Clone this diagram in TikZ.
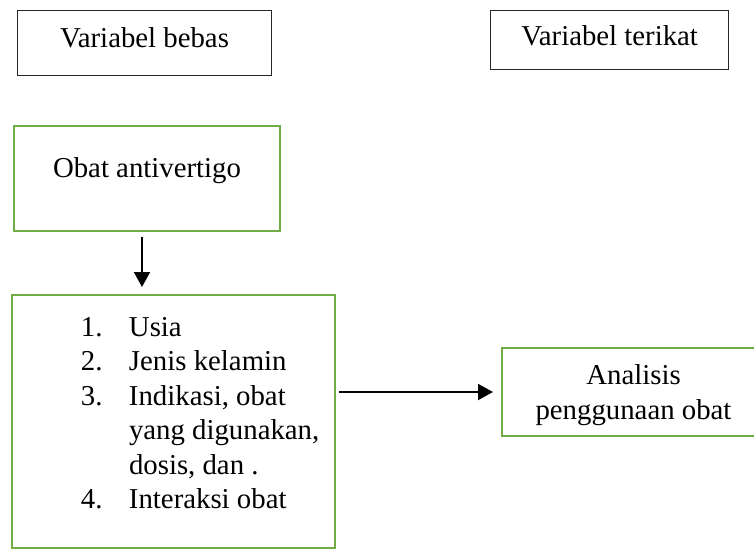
\documentclass[tikz,border=0pt]{standalone}
\usepackage{fontspec}
\setmainfont{Liberation Serif}
\usetikzlibrary{arrows.meta}
\definecolor{hijau}{RGB}{112,173,71}

\begin{document}
\begin{tikzpicture}[x=1pt,y=-1pt,
    judul/.style={draw=black!85,line width=1.2pt,inner sep=0pt,anchor=north west},
    kotak/.style={draw=hijau,line width=2pt,inner sep=0pt,anchor=north west},
    panah/.style={line width=2pt,-{Triangle[width=16pt,length=15pt]}},
    font=\fontsize{28.8}{34.5}\selectfont]
  \useasboundingbox (0,0) rectangle (754,549);
  % variabel
  \node[judul,minimum width=254pt,text height=37pt,text depth=28pt]
    (bebas) at (17,10) {Variabel bebas};
  \node[judul,minimum width=238pt,text height=35pt,text depth=24pt]
    (terikat) at (490,10) {Variabel terikat};
  % kotak hijau
  \node[kotak,minimum width=266pt,text height=51pt,text depth=54pt]
    (obat) at (13,125) {Obat antivertigo};
  \node[kotak,text width=323pt,align=left,text height=41pt,text depth=212pt]
    (daftar) at (11,294) {\spaceskip=0pt\hspace*{69pt}\begin{tabular}[t]{@{}p{48pt}@{}l@{}}
      1. & Usia\\
      2. & Jenis kelamin\\
      3. & Indikasi, obat\\
         & yang digunakan,\\
         & dosis, dan .\\
      4. & Interaksi obat
    \end{tabular}};
  \node[kotak,minimum width=263pt,align=center,text height=71pt,text depth=17pt]
    (analisis) at (501,347) {\spaceskip=0pt Analisis\\penggunaan obat};
  % panah
  \draw[panah] ([xshift=-5pt,yshift=-5pt]obat.south)
    -- ([xshift=-5pt,yshift=7pt]obat.south |- daftar.north);
  \draw[panah,shorten <=3pt,shorten >=8pt] (daftar.east |- analisis.west)
    -- (analisis.west);
\end{tikzpicture}
\end{document}
